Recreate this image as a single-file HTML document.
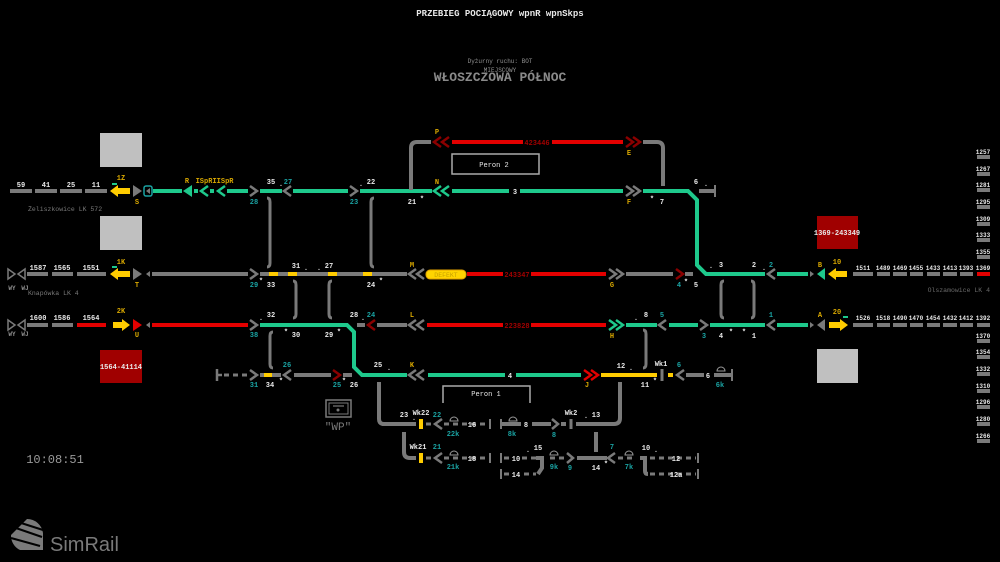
<!DOCTYPE html>
<html><head><meta charset="utf-8"><style>
html,body{margin:0;padding:0;background:#000;width:1000px;height:562px;overflow:hidden}
svg{display:block}
text{font-family:"Liberation Mono","DejaVu Sans Mono",monospace;font-weight:bold;font-size:7px;text-anchor:middle}
.w{fill:#e8e8e8}.y{fill:#d9a800}.t{fill:#1aa3a3}.g{fill:#909090}.dr{fill:#a00000}
.G{stroke:#1ec98c;stroke-width:4;fill:none}
.S{stroke:#7a7a7a;stroke-width:4;fill:none}
.R{stroke:#e30000;stroke-width:4;fill:none}
.Y{stroke:#ffcc00;stroke-width:4;fill:none}
.D{stroke:#7a7a7a;stroke-width:3;fill:none;stroke-dasharray:5 4}
.cs{stroke:#7a7a7a;stroke-width:2.5;fill:none}
.cg{stroke:#1ec98c;stroke-width:2.5;fill:none}
.cr{stroke:#e30000;stroke-width:2.5;fill:none}
.cd{stroke:#8b0000;stroke-width:2.5;fill:none}
.br{stroke:#7a7a7a;stroke-width:3;fill:none}
</style></head><body>
<svg width="1000" height="562" viewBox="0 0 1000 562" xmlns="http://www.w3.org/2000/svg">
<!-- header -->
<text x="500" y="16" class="w" style="font-size:9px">PRZEBIEG POCIĄGOWY wpnR wpnSkps</text>
<text x="500" y="63" class="g" style="font-size:6px;font-weight:normal">Dyżurny ruchu: BOT</text>
<text x="500" y="72" class="g" style="font-size:6px;font-weight:normal">MIEJSCOWY</text>
<text x="500" y="81" style="font-size:13px;fill:#8a8a8a">WŁOSZCZOWA PÓŁNOC</text>

<!-- left boxes -->
<rect x="100" y="133" width="42" height="34" fill="#c0c0c0"/>
<rect x="100" y="216" width="42" height="34" fill="#c0c0c0"/>
<rect x="100" y="350" width="42" height="33" fill="#a00000"/>
<text x="121" y="369" class="w" style="font-size:7px">1564-41114</text>
<rect x="817" y="216" width="41" height="33" fill="#a00000"/>
<text x="837" y="235" class="w" style="font-size:7px">1369-243349</text>
<rect x="817" y="349" width="41" height="34" fill="#c0c0c0"/>

<!-- ROW 1 y=191 -->
<g>
<path class="S" d="M10 191H32M35 191H57M60 191H82M85 191H107"/>
<text x="21" y="187" class="w">59</text><text x="46" y="187" class="w">41</text><text x="71" y="187" class="w">25</text><text x="96" y="187" class="w">11</text>
<path d="M110 191L118 185V188H130V194H118V197Z" fill="#ffcc00"/>
<rect x="112" y="183" width="5" height="2" fill="#1ec98c"/>
<text x="121" y="180" class="y">1Z</text>
<path d="M133 185L142 191L133 197Z" fill="#7a7a7a"/>
<text x="137" y="204" class="y">S</text>
<rect x="144" y="186" width="8" height="10" rx="2" fill="none" stroke="#1aa3a3" stroke-width="1.5"/>
<path d="M150 188L146 191L150 194Z" fill="#7a7a7a"/>
<path class="G" d="M153 191H182M194 191H198M210 191H214M227 191H248"/>
<path d="M183 191L192 185V197Z" fill="#1ec98c"/>
<path class="cg" d="M208 186L201 191L208 196M225 186L218 191L225 196"/>
<text x="187" y="183" class="y">R</text><text x="204" y="183" class="y">ISpR</text><text x="223" y="183" class="y">IISpR</text>
<path class="cs" d="M250 186L257 191L250 196"/>
<path class="G" d="M260 191H282"/>
<path class="cs" d="M291 186L284 191L291 196"/>
<path class="G" d="M293 191H348"/>
<path class="cs" d="M350 186L357 191L350 196"/>
<path class="G" d="M360 191H432"/>
<text x="271" y="184" class="w">35</text><text x="281" y="186" class="w">.</text><text x="288" y="184" class="t">27</text>
<text x="254" y="204" class="t">28</text>
<text x="361" y="186" class="w">.</text><text x="371" y="184" class="w">22</text><text x="354" y="204" class="t">23</text>
<text x="412" y="204" class="w">21</text><text x="422" y="201" class="w">*</text>
<path class="cg" d="M441 186L434 191L441 196M449 186L442 191L449 196"/>
<text x="437" y="184" class="y">N</text>
<path class="G" d="M452 191H509M520 191H623"/>
<text x="515" y="194" class="w">3</text>
<path class="cs" d="M626 186L633 191L626 196M633 186L640 191L633 196"/>
<text x="629" y="204" class="y">F</text>
<text x="652" y="201" class="w">*</text><text x="662" y="204" class="w">7</text>
<path class="G" d="M643 191H688L697 200V265L706 274H765"/>
<text x="696" y="184" class="w">6</text><text x="706" y="186" class="w">.</text>
<path class="S" d="M699 191H715"/><path d="M715 185V197" stroke="#7a7a7a" stroke-width="2"/>
<text x="28" y="211" style="font-size:6.5px;font-weight:normal;fill:#7a7a7a;text-anchor:start">Żeliszkowice LK 572</text>
</g>

<!-- top P-E -->
<path class="S" d="M411 190V148Q411 142 417 142H431"/>
<path class="cd" d="M441 137L434 142L441 147M449 137L442 142L449 147"/>
<text x="437" y="134" class="y">P</text>
<path class="R" d="M452 142H523M552 142H623"/>
<text x="537" y="145" class="dr">423446</text>
<path class="cd" d="M626 137L633 142L626 147M633 137L640 142L633 147"/>
<text x="629" y="155" class="y">E</text>
<path class="S" d="M643 142H657Q663 142 663 148V186"/>
<rect x="452" y="154" width="87" height="20" fill="none" stroke="#aaa" stroke-width="1.5"/>
<text x="494" y="167" class="w" style="font-weight:normal">Peron 2</text>

<!-- ROW 2 y=274 -->
<g>
<path d="M8 269L15 274L8 279Z" fill="none" stroke="#7a7a7a" stroke-width="1.5"/>
<path d="M25 269L18 274L25 279Z" fill="none" stroke="#7a7a7a" stroke-width="1.5"/>
<text x="12" y="290" class="g" style="font-size:6px">WY</text><text x="25" y="290" class="g" style="font-size:6px">WJ</text>
<path class="S" d="M27 274H48M52 274H73M77 274H106"/>
<text x="38" y="270" class="w">1587</text><text x="62" y="270" class="w">1565</text><text x="91" y="270" class="w">1551</text>
<path d="M110 274L118 268V271H130V277H118V280Z" fill="#ffcc00"/>
<rect x="112" y="266" width="5" height="2" fill="#1ec98c"/>
<text x="121" y="264" class="y">1K</text>
<path d="M133 268L142 274L133 280Z" fill="#7a7a7a"/>
<text x="137" y="287" class="y">T</text>
<path d="M150 271L146 274L150 277Z" fill="#7a7a7a"/>
<path class="S" d="M152 274H248"/>
<path class="cs" d="M250 269L257 274L250 279"/>
<path class="S" d="M260 274H407"/>
<path class="Y" d="M269 274H278M288 274H297M328 274H337M363 274H372"/>
<text x="254" y="287" class="t">29</text><text x="261" y="283" class="w">*</text><text x="271" y="287" class="w">33</text>
<text x="296" y="268" class="w">31</text><text x="306" y="270" class="w">.</text><text x="319" y="270" class="w">.</text><text x="329" y="268" class="w">27</text>
<text x="371" y="287" class="w">24</text><text x="381" y="283" class="w">*</text>
<path class="cs" d="M416 269L409 274L416 279M424 269L417 274L424 279"/>
<text x="412" y="267" class="y">M</text>
<rect x="426" y="270" width="40" height="9" rx="4" fill="#ffd400" stroke="#e0a000" stroke-width="1"/>
<text x="446" y="277" style="fill:#c8a000;font-size:6.5px;font-weight:normal">DEFEKT</text>
<path class="R" d="M467 274H503M531 274H606"/>
<text x="517" y="277" class="dr">243347</text>
<path class="cs" d="M609 269L616 274L609 279M616 269L623 274L616 279"/>
<text x="612" y="287" class="y">G</text>
<path class="S" d="M626 274H673M685 274H693"/>
<path class="cd" d="M676 269L683 274L676 279"/>
<text x="679" y="287" class="t">4</text><text x="686" y="284" class="w">*</text><text x="696" y="287" class="w">5</text>
<text x="711" y="268" class="w">.</text><text x="721" y="267" class="w">3</text>
<text x="754" y="267" class="w">2</text><text x="764" y="270" class="w">.</text><text x="771" y="267" class="t">2</text>
<path class="cs" d="M775 269L768 274L775 279"/>
<path class="G" d="M777 274H808"/>
<path d="M810 271L814 274L810 277Z" fill="#7a7a7a"/>
<path d="M817 274L825 268V280Z" fill="#1ec98c"/>
<text x="820" y="267" class="y">B</text>
<path d="M828 274L836 268V271H847V277H836V280Z" fill="#ffcc00"/>
<text x="837" y="264" class="y">10</text>
<path class="S" d="M853 274H873M877 274H890M893 274H907M910 274H923M927 274H940M943 274H957M960 274H973"/>
<path class="R" d="M977 274H990"/>
<g style="font-size:6px"><text x="863" y="270" class="w" style="font-size:6px">1511</text><text x="883" y="270" class="w" style="font-size:6px">1489</text><text x="900" y="270" class="w" style="font-size:6px">1469</text><text x="916" y="270" class="w" style="font-size:6px">1455</text><text x="933" y="270" class="w" style="font-size:6px">1433</text><text x="950" y="270" class="w" style="font-size:6px">1413</text><text x="966" y="270" class="w" style="font-size:6px">1393</text><text x="983" y="270" class="w" style="font-size:6px">1369</text></g>
<text x="28" y="295" style="font-size:6.5px;font-weight:normal;fill:#7a7a7a;text-anchor:start">Knapówka LK 4</text>
<text x="990" y="292" style="font-size:6.5px;font-weight:normal;fill:#6a6a6a;text-anchor:end">Olszamowice LK 4</text>
</g>

<!-- ROW 3 y=325 -->
<g>
<path d="M8 320L15 325L8 330Z" fill="none" stroke="#7a7a7a" stroke-width="1.5"/>
<path d="M25 320L18 325L25 330Z" fill="none" stroke="#7a7a7a" stroke-width="1.5"/>
<text x="12" y="336" class="g" style="font-size:6px">WY</text><text x="25" y="336" class="g" style="font-size:6px">WJ</text>
<path class="S" d="M27 325H48M52 325H73"/><path class="R" d="M77 325H106"/>
<text x="38" y="320" class="w">1600</text><text x="62" y="320" class="w">1586</text><text x="91" y="320" class="w">1564</text>
<path d="M130 325L122 319V322H113V328H122V331Z" fill="#ffcc00"/>
<text x="121" y="313" class="y">2K</text>
<path d="M133 319L142 325L133 331Z" fill="#e30000"/>
<text x="137" y="337" class="y">U</text>
<path d="M150 322L146 325L150 328Z" fill="#7a7a7a"/>
<path class="R" d="M152 325H248"/>
<path class="cs" d="M250 320L257 325L250 330"/>
<path class="G" d="M260 325H347L354 332V367L362 375H407"/>
<text x="261" y="320" class="w">.</text><text x="271" y="317" class="w">32</text>
<text x="254" y="337" class="t">38</text><text x="286" y="334" class="w">*</text><text x="296" y="337" class="w">30</text>
<text x="329" y="337" class="w">29</text><text x="339" y="334" class="w">*</text>
<text x="354" y="317" class="w">28</text><text x="363" y="320" class="w">.</text><text x="371" y="317" class="t">24</text>
<path class="S" d="M357 325H365M377 325H407"/>
<path class="cd" d="M375 320L368 325L375 330"/>
<path class="cs" d="M416 320L409 325L416 330M424 320L417 325L424 330"/>
<text x="412" y="317" class="y">L</text>
<path class="R" d="M427 325H503M531 325H606"/>
<text x="517" y="328" class="dr">223828</text>
<path class="cg" d="M609 320L616 325L609 330M616 320L623 325L616 330"/>
<text x="612" y="338" class="y">H</text>
<path class="G" d="M626 325H657M669 325H698M710 325H765M777 325H808"/>
<text x="636" y="320" class="w">.</text><text x="646" y="317" class="w">8</text>
<path class="cs" d="M666 320L659 325L666 330"/><text x="662" y="317" class="t">5</text>
<path class="cs" d="M700 320L707 325L700 330"/><text x="704" y="338" class="t">3</text>
<text x="721" y="338" class="w">4</text><text x="731" y="334" class="w">*</text><text x="744" y="334" class="w">*</text><text x="754" y="338" class="w">1</text>
<path class="cs" d="M775 320L768 325L775 330"/><text x="771" y="317" class="t">1</text>
<path d="M810 322L814 325L810 328Z" fill="#7a7a7a"/>
<path d="M817 325L825 319V331Z" fill="#7a7a7a"/>
<text x="820" y="317" class="y">A</text>
<path d="M848 325L840 319V322H829V328H840V331Z" fill="#ffcc00"/>
<rect x="843" y="316" width="5" height="2" fill="#1ec98c"/>
<text x="837" y="314" class="y">20</text>
<path class="S" d="M853 325H873M877 325H890M893 325H907M910 325H923M927 325H940M943 325H957M960 325H973M977 325H990"/>
<text x="863" y="320" class="w" style="font-size:6px">1526</text><text x="883" y="320" class="w" style="font-size:6px">1518</text><text x="900" y="320" class="w" style="font-size:6px">1490</text><text x="916" y="320" class="w" style="font-size:6px">1470</text><text x="933" y="320" class="w" style="font-size:6px">1454</text><text x="950" y="320" class="w" style="font-size:6px">1432</text><text x="966" y="320" class="w" style="font-size:6px">1412</text><text x="983" y="320" class="w" style="font-size:6px">1392</text>
</g>

<!-- right column -->
<g>
<path class="S" d="M977 157H990M977 174H990M977 190H990M977 207H990M977 224H990M977 240H990M977 257H990M977 341H990M977 357H990M977 374H990M977 391H990M977 407H990M977 424H990M977 441H990"/>
<text x="983" y="154" class="w" style="font-size:6px">1257</text><text x="983" y="171" class="w" style="font-size:6px">1267</text><text x="983" y="187" class="w" style="font-size:6px">1281</text><text x="983" y="204" class="w" style="font-size:6px">1295</text><text x="983" y="221" class="w" style="font-size:6px">1309</text><text x="983" y="237" class="w" style="font-size:6px">1333</text><text x="983" y="254" class="w" style="font-size:6px">1355</text>
<text x="983" y="338" class="w" style="font-size:6px">1370</text><text x="983" y="354" class="w" style="font-size:6px">1354</text><text x="983" y="371" class="w" style="font-size:6px">1332</text><text x="983" y="388" class="w" style="font-size:6px">1310</text><text x="983" y="404" class="w" style="font-size:6px">1296</text><text x="983" y="421" class="w" style="font-size:6px">1280</text><text x="983" y="438" class="w" style="font-size:6px">1266</text>
</g>

<!-- ROW 4 y=375 -->
<g>
<path d="M217 369V381M217 375H222" stroke="#7a7a7a" stroke-width="2.5"/>
<path class="D" d="M224 375H249"/>
<path class="cs" d="M250 370L257 375L250 380"/>
<path class="S" d="M260 375H281"/><path class="Y" d="M264 375H272"/>
<path class="cs" d="M291 370L284 375L291 380"/>
<path class="S" d="M294 375H331M343 375H352"/>
<path class="cd" d="M333 370L340 375L333 380"/>
<text x="287" y="367" class="t">26</text><text x="254" y="387" class="t">31</text><text x="270" y="387" class="w">34</text><text x="281" y="383" class="w">*</text>
<text x="337" y="387" class="t">25</text><text x="344" y="383" class="w">*</text><text x="354" y="387" class="w">26</text>
<text x="378" y="367" class="w">25</text><text x="389" y="370" class="w">.</text>
<path class="cs" d="M416 370L409 375L416 380M424 370L417 375L424 380"/>
<text x="412" y="367" class="y">K</text>
<path class="G" d="M428 375H505M516 375H581"/>
<text x="510" y="378" class="w">4</text>
<path class="cr" d="M584 370L591 375L584 380M591 370L598 375L591 380"/>
<text x="587" y="387" class="y">J</text>
<path class="Y" d="M601 375H657M668 375H673"/>
<path d="M662 369V381" stroke="#7a7a7a" stroke-width="3"/>
<text x="631" y="370" class="w">.</text><text x="621" y="368" class="w">12</text>
<text x="661" y="366" class="w">Wk1</text><text x="679" y="367" class="t">6</text>
<text x="645" y="387" class="w">11</text><text x="655" y="383" class="w">*</text>
<path class="cs" d="M684 370L677 375L684 380"/>
<path class="S" d="M686 375H704M714 375H732"/>
<path d="M732 369V381" stroke="#7a7a7a" stroke-width="2"/>
<text x="708" y="378" class="w">6</text>
<path d="M717 371a4 4 0 0 1 8 0z" fill="none" stroke="#999" stroke-width="1"/>
<text x="720" y="387" class="t">6k</text>
</g>

<!-- verticals -->
<path class="br" d="M267 198Q270 198 270 202V263Q270 267 267 267"/>
<path class="br" d="M374 198Q371 198 371 202V263Q371 267 374 267"/>
<path class="br" d="M293 281Q296 281 296 285V314Q296 318 293 318"/>
<path class="br" d="M332 281Q329 281 329 285V314Q329 318 332 318"/>
<path class="br" d="M273 332Q270 332 270 336V364Q270 368 273 368"/>
<path class="br" d="M724 281Q721 281 721 285V314Q721 318 724 318"/>
<path class="br" d="M751 281Q754 281 754 285V314Q754 318 751 318"/>
<path class="br" d="M643 330Q646 330 646 334V364Q646 368 643 368"/>

<!-- peron 1 -->
<path d="M443 403V386H530V403" fill="none" stroke="#aaa" stroke-width="1.5"/>
<text x="486" y="396" class="w" style="font-weight:normal">Peron 1</text>

<!-- WP -->
<rect x="326" y="400" width="25" height="17" fill="none" stroke="#7a7a7a" stroke-width="1.5"/>
<rect x="329" y="403" width="19" height="11" fill="none" stroke="#7a7a7a" stroke-width="1"/>
<path d="M333 406H344" stroke="#7a7a7a" stroke-width="1.2"/><circle cx="338" cy="410" r="1.5" fill="#7a7a7a"/>
<text x="338" y="430" style="font-size:11px;fill:#7a7a7a;font-weight:normal">"WP"</text>

<!-- lower yard -->
<g>
<path class="S" d="M379 382V419Q379 424 384 424H416"/>
<rect x="419" y="419" width="4" height="10" fill="#ffcc00"/>
<text x="404" y="417" class="w">23</text><text x="414" y="420" class="w">.</text><text x="421" y="415" class="w">Wk22</text><text x="437" y="417" class="t">22</text>
<path class="D" d="M426 424H434M444 424H488"/>
<path class="cs" d="M442 419L435 424L442 429"/>
<path d="M490 419V429" stroke="#7a7a7a" stroke-width="2"/>
<path d="M450 421a4 4 0 0 1 8 0z" fill="none" stroke="#999" stroke-width="1"/>
<text x="472" y="427" class="w">16</text><text x="453" y="436" class="t">22k</text>
<path d="M501 419V429" stroke="#7a7a7a" stroke-width="2"/>
<path class="S" d="M502 424H521M532 424H551"/>
<path d="M509 421a4 4 0 0 1 8 0z" fill="none" stroke="#999" stroke-width="1"/>
<text x="526" y="427" class="w">8</text><text x="512" y="436" class="t">8k</text>
<path class="cs" d="M552 419L558 424L552 429"/>
<path class="S" d="M561 424H566"/>
<path d="M571 419V429" stroke="#7a7a7a" stroke-width="3"/>
<text x="554" y="437" class="t">8</text><text x="571" y="415" class="w">Wk2</text><text x="586" y="418" class="w">.</text><text x="596" y="417" class="w">13</text>
<path class="S" d="M576 424H614Q620 424 620 418V382"/>
<path class="S" d="M404 432V452Q404 458 410 458H416"/>
<rect x="419" y="453" width="4" height="10" fill="#ffcc00"/>
<text x="418" y="449" class="w">Wk21</text><text x="437" y="449" class="t">21</text>
<path class="D" d="M426 458H434M444 458H488"/>
<path class="cs" d="M442 453L435 458L442 463"/>
<path d="M490 453V463" stroke="#7a7a7a" stroke-width="2"/>
<path d="M450 455a4 4 0 0 1 8 0z" fill="none" stroke="#999" stroke-width="1"/>
<text x="472" y="461" class="w">18</text><text x="453" y="469" class="t">21k</text>
<path d="M501 453V463M501 469V479" stroke="#7a7a7a" stroke-width="2"/>
<path class="D" d="M504 458H510M522 458H536"/>
<path class="S" d="M536 458H542V468L538 474"/>
<path class="D" d="M504 474H510M524 474H536"/>
<text x="516" y="461" class="w">10</text><text x="516" y="477" class="w">14</text>
<text x="528" y="452" class="w">.</text><text x="538" y="450" class="w">15</text>
<path class="D" d="M550 458H566"/>
<path d="M550 455a4 4 0 0 1 8 0z" fill="none" stroke="#999" stroke-width="1"/>
<text x="554" y="469" class="t">9k</text>
<path class="cs" d="M567 453L573 458L567 463"/>
<text x="570" y="470" class="t">9</text>
<path class="S" d="M577 458H607"/>
<path class="S" d="M596 432V452"/>
<text x="596" y="470" class="w">14</text><text x="606" y="466" class="w">*</text>
<path class="cs" d="M615 453L608 458L615 463"/>
<path class="D" d="M618 458H636"/>
<path d="M625 455a4 4 0 0 1 8 0z" fill="none" stroke="#999" stroke-width="1"/>
<text x="612" y="449" class="t">7</text><text x="629" y="469" class="t">7k</text>
<path class="S" d="M640 458H647M645 460V471Q645 474 648 474"/>
<path class="D" d="M650 458H696M650 474H696"/>
<path d="M698 453V463M698 469V479" stroke="#7a7a7a" stroke-width="2"/>
<text x="646" y="450" class="w">10</text><text x="656" y="452" class="w">.</text>
<text x="676" y="461" class="w">12</text><text x="676" y="477" class="w">12a</text>
</g>

<!-- clock -->
<text x="55" y="463" style="font-size:12px;fill:#9a9a9a;font-weight:normal">10:08:51</text>
<!-- logo -->
<g fill="#7a7a7a">
<path d="M27 519A16 16 0 0 1 43 533L43 550L20 550A16 16 0 0 1 11 535Z"/>
<path d="M13 527L42 537M11 538L40 546M18 522L43 530" stroke="#000" stroke-width="2"/>
</g>
<text x="50" y="551" style="font-size:20px;fill:#7a7a7a;font-family:'Liberation Sans',sans-serif;font-weight:normal;text-anchor:start">SimRail</text>
</svg>
</body></html>
